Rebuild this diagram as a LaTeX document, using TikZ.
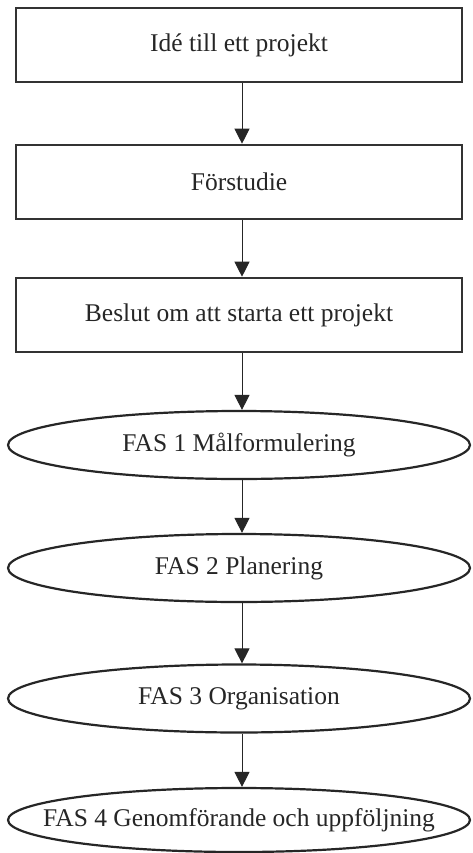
\documentclass[tikz,border=0pt]{standalone}
\usepackage{fontspec}
\setmainfont{Liberation Serif}
\usetikzlibrary{shapes.geometric,arrows.meta}
% Centred label that does not widen its node
\newcommand{\flatlabel}[1]{\makebox[0pt]{#1}}
\begin{document}
\begin{tikzpicture}[x=1pt,y=-1pt,
  every node/.style={font=\fontsize{25.5}{30}\selectfont, text=black!85},
  stagebox/.style={draw=black!80, line width=2.6pt, rectangle,
    minimum width=446pt, minimum height=74pt, inner sep=0pt},
  phase/.style={draw=black!85, line width=2.2pt, ellipse,
    minimum width=462pt, minimum height=68pt, inner sep=0pt},
  flow/.style={draw=black!85, line width=1pt,
    -{Triangle[width=15pt,length=15pt]}}]
\useasboundingbox (0,0) rectangle (472,853);
\fill[white] (0,0) rectangle (472,853);

\node[stagebox] (ide)     at (239,45)  {Idé till ett projekt};
\node[stagebox] (forstud) at (239,182) {Förstudie};
\node[stagebox] (beslut)  at (239,315) {Beslut om att starta ett projekt};

\node[phase] (fas1) at (239,445)   {\flatlabel{FAS 1 Målformulering}};
\node[phase] (fas2) at (239,568)   {\flatlabel{FAS 2 Planering}};
\node[phase] (fas3) at (239,698.5) {\flatlabel{FAS 3 Organisation}};
\node[phase, minimum height=64pt] (fas4) at (239,820) {\flatlabel{FAS 4 Genomförande och uppföljning}};

\foreach \a/\b in {ide/forstud, forstud/beslut, beslut/fas1, fas1/fas2, fas2/fas3, fas3/fas4}
  \draw[flow] ([xshift=3pt]\a.south) -- ([xshift=3pt]\b.north);
\end{tikzpicture}
\end{document}
